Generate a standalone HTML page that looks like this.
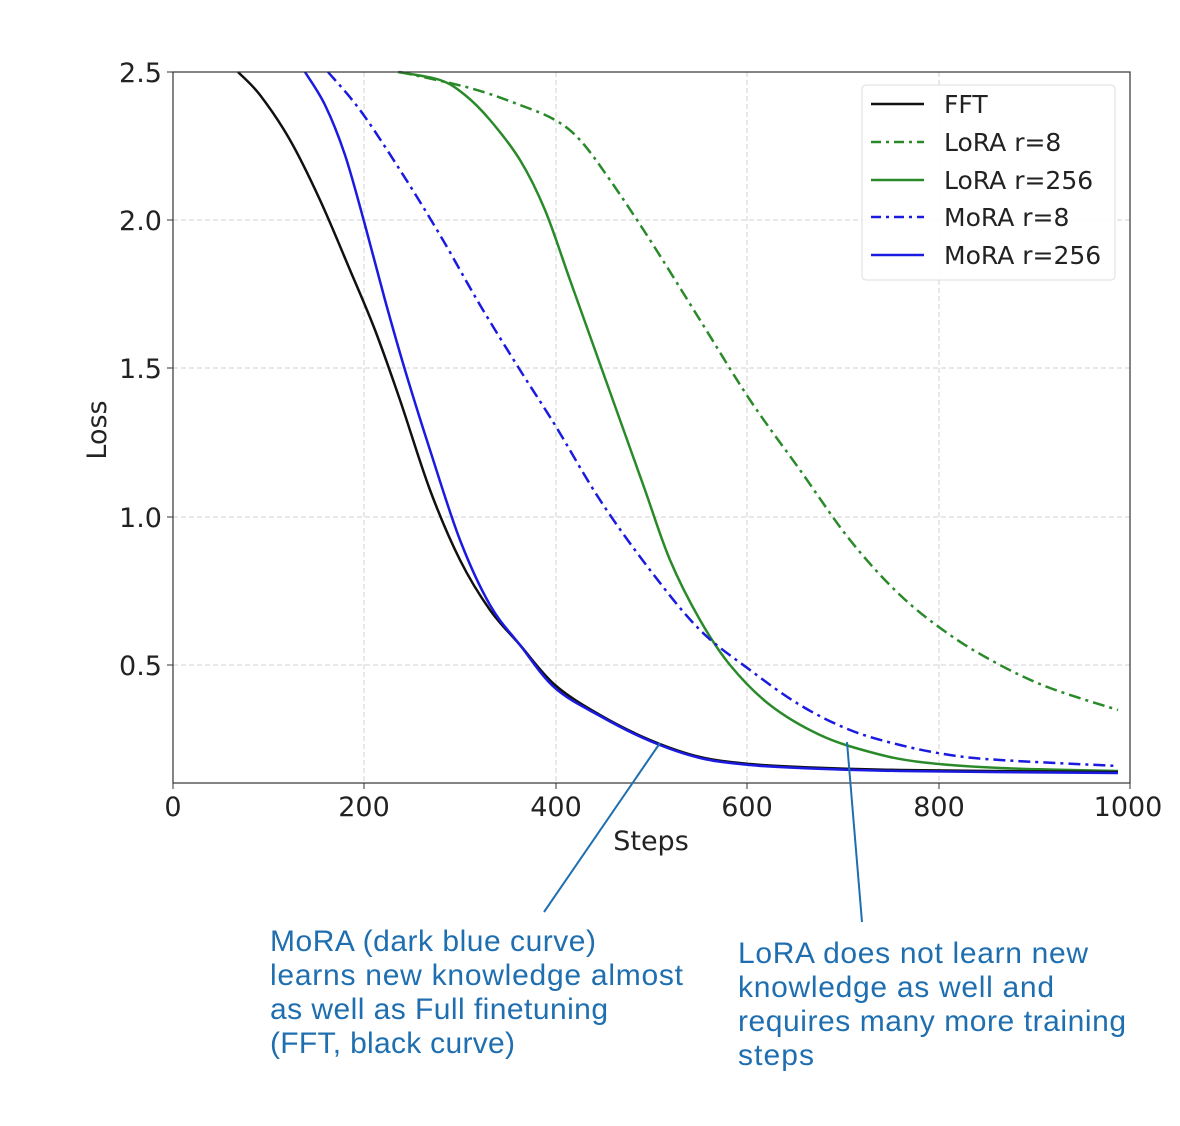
<!DOCTYPE html>
<html><head><meta charset="utf-8"><style>
html,body{margin:0;padding:0;background:#fff;}
</style></head><body>
<svg id="s" width="1180" height="1126" xmlns="http://www.w3.org/2000/svg" style="display:block">
<rect width="1180" height="1126" fill="#fff"/>
<g stroke="#d0d0d0" stroke-width="1" stroke-dasharray="5,3">
<line x1="364" y1="72" x2="364" y2="783"/><line x1="556" y1="72" x2="556" y2="783"/>
<line x1="747" y1="72" x2="747" y2="783"/><line x1="939" y1="72" x2="939" y2="783"/>
<line x1="173" y1="220" x2="1130" y2="220"/><line x1="173" y1="368" x2="1130" y2="368"/>
<line x1="173" y1="517" x2="1130" y2="517"/><line x1="173" y1="665" x2="1130" y2="665"/>
</g>
<g fill="none" stroke-width="2.5" stroke-linejoin="round">
<path class="c" stroke="#2a8a2a" stroke-dasharray="12,5,3,5" data-p="400,72 470,88 520,105 555,120 580,140 610,180 650,240 700,320 750,400 800,470 850,540 900,595 950,635 1000,665 1050,688 1118,710"/>
<path class="c" stroke="#2a8a2a" data-p="398,72 440,80 465,95 490,120 520,160 545,210 570,280 595,350 620,420 645,490 670,560 700,620 730,665 770,705 820,735 870,752 920,762 1000,768 1118,771"/>
<path class="c" stroke="#1a1ae0" stroke-dasharray="12,5,3,5" data-p="328,72 360,110 400,170 440,235 480,305 520,370 555,425 600,500 650,570 700,630 750,670 800,705 850,730 900,745 950,755 1000,760 1118,766"/>
<path class="c" stroke="#111" data-p="238,72 260,95 290,140 320,200 350,270 375,330 400,400 430,490 460,560 490,610 520,645 555,685 600,715 650,740 700,757 750,764 800,767 900,770 1118,772"/>
<path class="c" stroke="#1a1ae0" data-p="305,72 325,105 345,155 365,225 385,300 405,370 430,450 460,540 490,605 520,645 555,688 600,716 650,741 700,758 750,765 800,768 900,771 1118,773"/>
</g>
<rect x="173" y="72" width="957" height="711" fill="none" stroke="#333" stroke-width="1.2"/>
<g stroke="#333"><line x1="173" y1="783" x2="173" y2="789"/><line x1="364" y1="783" x2="364" y2="789"/><line x1="556" y1="783" x2="556" y2="789"/><line x1="747" y1="783" x2="747" y2="789"/><line x1="939" y1="783" x2="939" y2="789"/><line x1="1130" y1="783" x2="1130" y2="789"/>
<line x1="167" y1="72" x2="173" y2="72"/><line x1="167" y1="220" x2="173" y2="220"/><line x1="167" y1="368" x2="173" y2="368"/><line x1="167" y1="517" x2="173" y2="517"/><line x1="167" y1="665" x2="173" y2="665"/></g>
<g font-family="DejaVu Sans, sans-serif" font-size="27" fill="#222">
<g text-anchor="middle"><text x="173" y="816">0</text><text x="364" y="816">200</text><text x="556" y="816">400</text><text x="747" y="816">600</text><text x="939" y="816">800</text><text x="1128" y="816">1000</text>
<text x="651" y="850">Steps</text></g>
<g text-anchor="end"><text x="162" y="82">2.5</text><text x="162" y="230">2.0</text><text x="162" y="378">1.5</text><text x="162" y="527">1.0</text><text x="162" y="675">0.5</text></g>
<text transform="translate(106,430) rotate(-90)" text-anchor="middle">Loss</text>
</g>
<rect x="862" y="85" width="253" height="195" rx="4" fill="#fff" fill-opacity="0.9" stroke="#ddd"/>
<g stroke-width="2.5"><line x1="871" y1="104" x2="924" y2="104" stroke="#111"/>
<line x1="871" y1="142" x2="924" y2="142" stroke="#2a8a2a" stroke-dasharray="10,5,3,5"/>
<line x1="871" y1="180" x2="924" y2="180" stroke="#2a8a2a"/>
<line x1="871" y1="217" x2="924" y2="217" stroke="#1a1ae0" stroke-dasharray="10,5,3,5"/>
<line x1="871" y1="255" x2="924" y2="255" stroke="#1a1ae0"/></g>
<g font-family="DejaVu Sans, sans-serif" font-size="25" fill="#222">
<text x="944" y="113">FFT</text><text x="944" y="151">LoRA r=8</text><text x="944" y="189">LoRA r=256</text><text x="944" y="226">MoRA r=8</text><text x="944" y="264">MoRA r=256</text></g>
<g stroke="#1f6fb0" stroke-width="2"><line x1="660" y1="743" x2="544" y2="912"/><line x1="847" y1="742" x2="862" y2="922"/></g>
<g font-family="Liberation Sans, Arial, sans-serif" font-size="30" fill="#1f6fb0" lengthAdjust="spacingAndGlyphs">
<text x="270" y="951" textLength="326">MoRA (dark blue curve)</text><text x="270" y="985" textLength="413">learns new knowledge almost</text><text x="270" y="1019" textLength="338">as well as Full finetuning</text><text x="270" y="1053" textLength="245">(FFT, black curve)</text>
<text x="738" y="963" textLength="350">LoRA does not learn new</text><text x="738" y="997" textLength="316">knowledge as well and</text><text x="738" y="1031" textLength="388">requires many more training</text><text x="738" y="1065" textLength="76">steps</text></g>
</svg>
<script>
document.querySelectorAll('path.c').forEach(function(el){
var p=el.getAttribute('data-p').split(' ').map(function(s){return s.split(',').map(Number);});
var d='M'+p[0][0]+','+p[0][1];
for(var i=0;i<p.length-1;i++){
var p0=p[i-1]||p[i],p1=p[i],p2=p[i+1],p3=p[i+2]||p2;
var c1x=p1[0]+(p2[0]-p0[0])/6,c1y=p1[1]+(p2[1]-p0[1])/6;
var c2x=p2[0]-(p3[0]-p1[0])/6,c2y=p2[1]-(p3[1]-p1[1])/6;
d+=' C'+c1x+','+c1y+' '+c2x+','+c2y+' '+p2[0]+','+p2[1];}
el.setAttribute('d',d);});
</script>
</body></html>
